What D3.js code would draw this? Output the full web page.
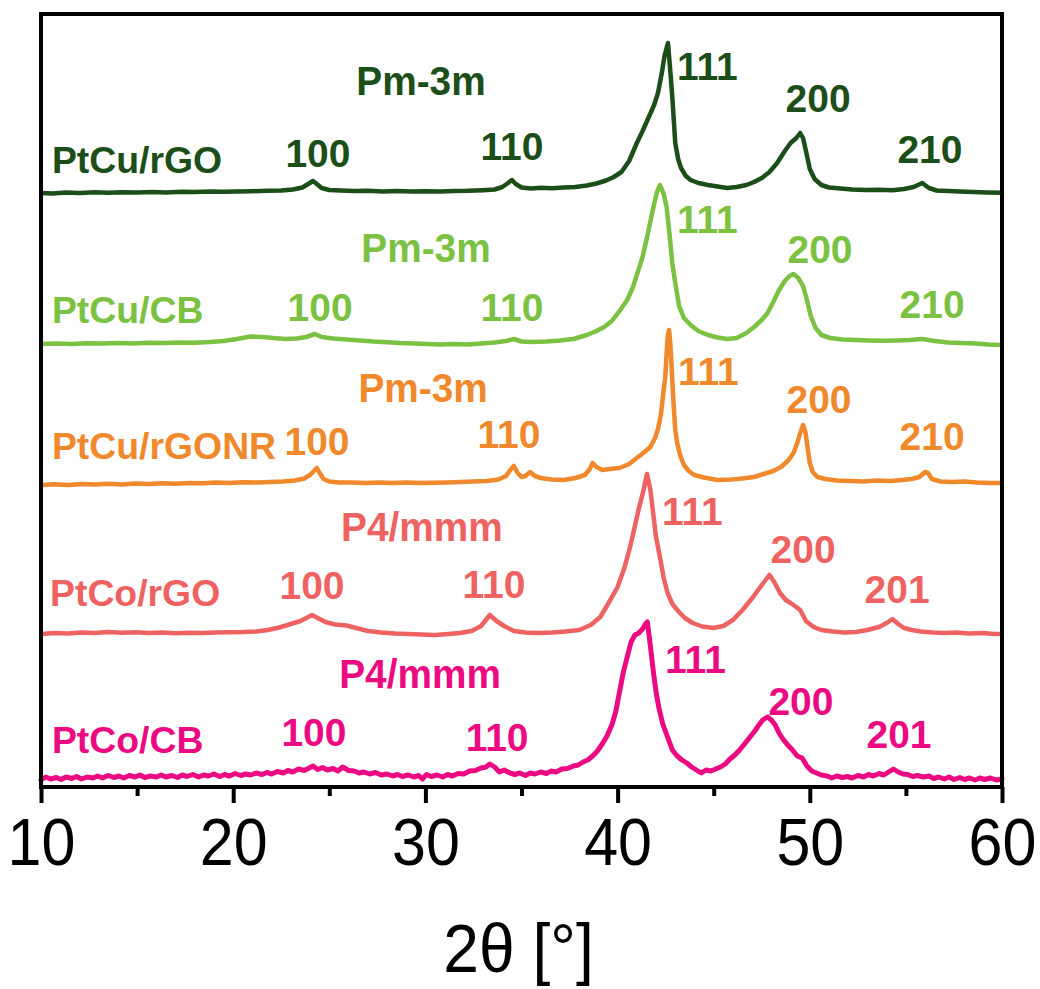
<!DOCTYPE html>
<html>
<head>
<meta charset="utf-8">
<script src="https://cdn.jsdelivr.net/npm/d3@7/dist/d3.min.js"></script>
<style>
  html, body { margin: 0; padding: 0; background: #fff; }
  svg { display: block; }
  text { font-family: "Liberation Sans", Arial, Helvetica, sans-serif; }
</style>
</head>
<body>
<svg id="chart" width="1040" height="989"></svg>
<script>
// ---- XRD patterns, 2θ (°) vs intensity above each pattern's own baseline (a.u.) ----
const seriesNames = ["PtCu/rGO", "PtCu/CB", "PtCu/rGONR", "PtCo/rGO", "PtCo/CB"];
const seriesColors = ["#1c4e1a", "#7bc142", "#f0882c", "#ee6361", "#ec0a82"];
const seriesOffsets = [594, 443, 302, 153, 7];
const phaseNames = ["Pm-3m", "Pm-3m", "Pm-3m", "P4/mmm", "P4/mmm"];

const ptcuRGO = [[10,0],[10.6,-0.5],[11.3,0.5],[12,0],[12.8,0.8],[13.5,0.2],[14.2,0.8],[15,0.5],[15.8,1],[16.5,0.6],[17.3,1.2],[18,1],[18.8,1.6],[19.5,1.2],[20.2,1.5],[21,1.8],[21.8,2.2],[22.5,2.5],[23.1,3.5],[23.6,5.5],[23.9,9],[24.15,12],[24.35,9],[24.6,5],[25,3],[25.6,2.5],[26.3,2],[27,2.2],[27.8,1.6],[28.5,2],[29.3,1.4],[30,1.8],[30.8,1.5],[31.5,2],[32.2,2.2],[33,2.8],[33.6,3.5],[34,6],[34.3,10],[34.5,13],[34.7,9],[35,5.5],[35.5,4.5],[36,5.2],[36.6,4.8],[37.2,5.5],[37.8,6],[38.4,7.5],[38.9,9.5],[39.4,12.5],[39.8,16],[40.2,21],[40.6,32],[41,50],[41.3,62],[41.6,75],[41.9,88],[42.1,100],[42.3,120],[42.45,138],[42.62,150],[42.75,120],[42.85,95],[43,50],[43.15,34],[43.3,25],[43.55,17],[43.8,13],[44.2,10],[44.7,8],[45.2,6.5],[45.7,5],[46.2,6],[46.7,8],[47.1,11],[47.5,15],[47.9,21],[48.3,30],[48.7,42],[49,50],[49.3,55],[49.5,60],[49.65,55],[49.8,42],[50,24],[50.25,14],[50.6,8],[51,5.5],[51.6,4.5],[52.2,3.5],[52.9,3],[53.6,3.2],[54.3,2.8],[54.9,4],[55.4,6],[55.85,10],[56.2,5],[56.6,2.5],[57.2,2],[57.8,1.5],[58.5,1],[59.2,0.6],[60,0.3]];

const ptcuCB = [[10,0],[10.8,0.6],[11.6,0],[12.4,0.8],[13.2,0.4],[14,1],[14.8,0.6],[15.6,1.2],[16.4,1],[17.2,1.5],[18,1.2],[18.8,2],[19.5,3],[20.2,5],[20.9,7.5],[21.5,7],[22.1,6],[22.7,5],[23.3,5.5],[23.8,7],[24.25,10],[24.6,7],[25.2,5.5],[25.9,4.5],[26.6,3.5],[27.3,2.5],[28,1.8],[28.7,1],[29.4,0.5],[30.1,0],[30.8,-0.5],[31.5,0],[32.2,-0.5],[32.9,0.5],[33.6,1.5],[34.2,3],[34.6,5],[35,2.5],[35.6,2],[36.3,2.5],[37,3.5],[37.7,5],[38.4,9],[38.9,13],[39.3,17],[39.7,23],[40.1,33],[40.5,44],[40.8,57],[41.05,72],[41.3,87],[41.5,104],[41.7,122],[41.9,140],[42.05,152],[42.2,159],[42.4,150],[42.55,137],[42.7,110],[42.85,80],[43,61],[43.2,38],[43.45,26],[43.8,19],[44.2,13],[44.7,9],[45.2,6.5],[45.7,5],[46.2,6],[46.7,11],[47.1,17],[47.5,24],[47.8,31],[48.1,42],[48.4,54],[48.7,63],[48.95,68],[49.15,70],[49.4,66],[49.65,58],[49.85,44],[50.05,28],[50.3,16],[50.6,9],[51.05,6],[51.7,4.5],[52.4,4],[53.1,3.5],[53.8,3.2],[54.5,3.5],[55.2,4],[55.85,5],[56.5,3],[57.2,1.5],[57.9,1],[58.6,0.5],[59.3,-0.5],[60,-1]];

const ptcuRGONR = [[10,0],[10.7,0.8],[11.4,0],[12.1,1],[12.8,0.5],[13.5,1.2],[14.2,0.6],[14.9,1.5],[15.6,1],[16.3,1.8],[17,1.2],[17.7,2],[18.4,1.8],[19.1,2.5],[19.8,2],[20.5,2.8],[21.2,2.5],[21.9,3],[22.6,3.5],[23.2,4.5],[23.7,6.5],[24,10],[24.2,14],[24.35,17],[24.5,12],[24.7,6],[25,3.5],[25.5,2.5],[26.2,2.5],[26.9,2],[27.6,2.5],[28.3,2],[29,2.5],[29.7,2],[30.4,2.2],[31.1,2.5],[31.8,3],[32.5,3.5],[33.2,4],[33.8,5.5],[34.2,9],[34.45,16],[34.6,19],[34.8,12],[35,8],[35.2,9],[35.45,13],[35.7,9],[36,7],[36.6,5.5],[37.2,5],[37.8,7],[38.3,10],[38.55,16],[38.7,22],[38.9,18],[39.2,15],[39.6,16],[40.1,17],[40.6,21],[41,27],[41.4,33],[41.7,38],[41.95,47],[42.1,56],[42.25,70],[42.38,92],[42.48,108],[42.56,135],[42.62,150],[42.68,155],[42.74,142],[42.8,122],[42.9,85],[43,55],[43.1,42],[43.25,30],[43.45,20],[43.7,14],[44,10],[44.5,7.5],[45.2,5],[45.9,5.5],[46.5,6.5],[47.1,8],[47.6,11],[48.1,14],[48.5,18],[48.9,25],[49.15,32],[49.35,42],[49.5,52],[49.65,60],[49.78,52],[49.88,38],[50,22],[50.15,13],[50.4,8],[50.8,6],[51.4,4.5],[52.1,4],[52.8,3.5],[53.5,4.5],[54.2,4],[54.8,5],[55.3,6],[55.7,8],[56,13],[56.15,12],[56.35,6],[56.8,3.5],[57.4,3],[58,3.5],[58.7,2.5],[59.4,2],[60,2]];

const ptcoRGO = [[10,0],[10.7,1],[11.4,0.5],[12.1,1.5],[12.8,1],[13.5,2],[14.2,1.2],[14.9,1.8],[15.6,1],[16.3,1.5],[17,0.8],[17.7,1.2],[18.4,1],[19.1,1.5],[19.8,1.8],[20.5,2],[21.2,2.5],[21.8,4],[22.4,6.5],[23,10],[23.5,13],[23.9,17],[24.1,19],[24.4,16],[24.8,12],[25.3,9.5],[25.9,8.5],[26.4,6],[27,3],[27.7,1.5],[28.4,0.5],[29.1,0],[29.8,-0.5],[30.5,-1],[31.2,0],[31.8,1],[32.4,3],[32.9,8],[33.35,19],[33.7,13],[34.1,8],[34.6,3],[35.2,1.5],[35.9,1],[36.6,1.5],[37.3,2.5],[38,4],[38.6,9],[39.1,17],[39.5,30],[40,47],[40.35,66],[40.65,87],[40.9,108],[41.1,125],[41.3,140],[41.53,160],[41.7,145],[41.85,121],[42,97],[42.2,77],[42.4,56],[42.6,41],[42.85,30],[43.1,24],[43.5,16],[43.9,11],[44.4,7.5],[45,6],[45.5,8],[46,14],[46.5,24],[47.05,37],[47.5,49],[47.9,59],[48.15,52],[48.45,41],[48.75,34],[49,31],[49.3,27],[49.5,24],[49.8,13],[50.2,7],[50.6,4],[51.2,2.5],[51.8,1.5],[52.4,2],[53,4],[53.6,7],[54,11],[54.3,15],[54.6,10],[54.9,6],[55.3,4],[55.8,2.5],[56.4,1.5],[57,1],[57.6,1.5],[58.3,0.5],[59,1],[59.6,0],[60,0]];

const ptcoCB = [[10,0],[10.25,3],[10.5,1],[10.8,2.5],[11.05,0.5],[11.3,3],[11.6,1.5],[11.85,3.5],[12.1,1],[12.4,3],[12.7,2],[12.95,4],[13.2,2],[13.5,4.5],[13.8,2.5],[14.05,4],[14.3,2],[14.6,4.5],[14.9,3],[15.15,5],[15.4,2.5],[15.7,4],[16,3],[16.25,5],[16.5,3],[16.8,4.5],[17.1,2.5],[17.35,5],[17.6,3.5],[17.9,5.5],[18.2,3],[18.45,5],[18.7,4],[19,6],[19.3,3.5],[19.55,5.5],[19.8,4],[20.1,6.5],[20.4,4.5],[20.65,6],[20.9,5],[21.2,7],[21.5,5.5],[21.75,7.5],[22,6],[22.3,8.5],[22.6,7],[22.85,9.5],[23.1,8],[23.4,11],[23.7,9.5],[23.95,12],[24.15,14],[24.4,10.5],[24.65,12.5],[24.9,10],[25.2,11.5],[25.45,9],[25.7,13],[26,9.5],[26.3,9],[26.55,7],[26.8,8],[27.1,6],[27.4,7.5],[27.7,5],[28,6],[28.3,4],[28.55,5.5],[28.8,3.5],[29.1,5],[29.4,3],[29.65,4.5],[29.85,1],[30.05,5.5],[30.3,3.5],[30.6,5],[30.9,3],[31.15,5.5],[31.4,4],[31.7,6.5],[32,6],[32.3,9],[32.6,9.5],[32.9,12],[33.15,13],[33.35,16],[33.6,13],[33.85,8],[34.1,10],[34.4,7],[34.65,5.5],[34.9,7],[35.2,4.5],[35.45,7],[35.7,6],[36,8],[36.3,6.5],[36.55,9],[36.8,8],[37.1,11],[37.4,11.5],[37.7,14],[37.95,15],[38.2,18],[38.45,20],[38.7,24],[38.95,29],[39.2,36],[39.45,44],[39.7,55],[39.9,68],[40.1,88],[40.3,108],[40.5,123],[40.7,138],[40.9,145],[41.1,147],[41.3,151],[41.45,156],[41.55,158],[41.7,135],[41.85,110],[42,88],[42.15,72],[42.35,56],[42.6,43],[42.85,30],[43.1,24],[43.35,20],[43.6,17],[43.85,13],[44.1,10],[44.35,7],[44.6,10],[44.85,9],[45.1,11],[45.35,13],[45.6,16],[45.85,21],[46.1,25],[46.35,30],[46.6,36],[46.85,42],[47.1,48],[47.35,55],[47.55,60],[47.8,63],[48,60],[48.2,55],[48.4,47],[48.6,41],[48.85,35],[49.1,30],[49.35,24],[49.6,22],[49.85,14],[50.1,9],[50.35,7],[50.6,5],[50.9,4],[51.15,2],[51.4,4],[51.7,2.5],[51.95,3.5],[52.2,2],[52.5,4.5],[52.8,3],[53.05,5.5],[53.3,4],[53.6,6.5],[53.85,5],[54.1,8],[54.35,11],[54.6,8],[54.85,6],[55.1,5.5],[55.35,3.5],[55.6,4.5],[55.9,3],[56.2,4],[56.45,1.5],[56.7,3],[57,1],[57.25,3],[57.5,0.5],[57.8,2.5],[58.05,0.5],[58.3,2],[58.6,0],[58.85,2],[59.1,0.5],[59.4,2],[59.7,0],[60,1]];

const seriesData = [ptcuRGO, ptcuCB, ptcuRGONR, ptcoRGO, ptcoCB];

// Reflection labels: [2θ, level] in the stacked intensity units
const hklCubic = ["100", "110", "111", "200", "210"];
const hklTetra = ["100", "110", "111", "200", "201"];
const hklPositions = [
  [[24.41, 620], [34.5, 627], [43.09, 707], [50.43, 675], [56.25, 624]],
  [[24.52, 466], [34.5, 466], [43.09, 554], [50.53, 524], [56.36, 469]],
  [[24.36, 332], [34.35, 339], [43.14, 402], [50.48, 374], [56.36, 337]],
  [[24.1, 188], [33.57, 189], [42.31, 262], [49.65, 224], [54.54, 184]],
  [[24.2, 41], [33.73, 36], [42.47, 114], [49.54, 72], [54.64, 39]]
];
// Sample-name and space-group label anchors [2θ, level]
const nameAnchors = [[10.57, 614], [10.57, 464], [10.57, 328], [10.47, 181], [10.57, 34]];
const phaseAnchors = [[29.77, 692], [30.03, 525], [29.88, 385], [29.82, 246], [29.72, 99]];

const majorTicks = [10, 20, 30, 40, 50, 60];
const minorTicks = [15, 25, 35, 45, 55];
const xTitle = "2θ [°]";

// ---- layout ----
const svg = d3.select("#chart");
const plot = { left: 41, right: 1002, top: 14, bottom: 787 };
const x = d3.scaleLinear().domain([10, 60]).range([plot.left, plot.right]);
const y = d3.scaleLinear().domain([0, 773]).range([plot.bottom, plot.top]);

const line = d3.line()
  .x(d => x(d[0]))
  .y(d => y(d[1]));

// patterns
const traces = svg.append("g");
seriesData.forEach((pts, i) => {
  traces.append("path")
    .datum(pts.map(p => [p[0], p[1] + seriesOffsets[i]]))
    .attr("d", line)
    .attr("fill", "none")
    .attr("stroke", seriesColors[i])
    .attr("stroke-width", i === 4 ? 5 : 4.5)
    .attr("stroke-linejoin", "round")
    .attr("stroke-linecap", "round");
});

// labels
const labels = svg.append("g").attr("font-weight", "bold");
function putText(g, str, px, py, size, anchor, color, sx) {
  g.append("text")
    .attr("transform", `translate(${px},${py}) scale(${sx},1)`)
    .attr("text-anchor", anchor)
    .attr("font-size", size)
    .attr("fill", color)
    .text(str);
}
seriesNames.forEach((name, i) => {
  const c = seriesColors[i];
  putText(labels, name, x(nameAnchors[i][0]), y(nameAnchors[i][1]), 37, "start", c, 1.01);
  putText(labels, phaseNames[i], x(phaseAnchors[i][0]), y(phaseAnchors[i][1]), 40, "middle", c, 0.97);
  const hkl = i < 3 ? hklCubic : hklTetra;
  hkl.forEach((h, j) => {
    const [tt, lv] = hklPositions[i][j];
    putText(labels, h, x(tt), y(lv), 39, h === "111" ? "start" : "middle", c, 1.0);
  });
});

// axis with outward ticks
const axis = svg.append("g").attr("transform", `translate(0,${plot.bottom})`);
axis.call(d3.axisBottom(x).tickValues(minorTicks).tickSize(9).tickFormat(""))
  .call(g => g.select(".domain").remove())
  .call(g => g.selectAll("line").attr("stroke", "#000").attr("stroke-width", 4));
const major = svg.append("g").attr("transform", `translate(0,${plot.bottom})`);
major.call(d3.axisBottom(x).tickValues(majorTicks).tickSize(16).tickPadding(14).tickFormat(d3.format("d")))
  .call(g => g.select(".domain").remove())
  .call(g => g.selectAll("line").attr("stroke", "#000").attr("stroke-width", 4))
  .call(g => g.selectAll("text")
    .attr("fill", "#000")
    .attr("font-size", 67)
    .attr("font-family", "'Liberation Sans', Arial, sans-serif")
    .attr("transform", "scale(0.91,1)"));

// frame
svg.append("rect")
  .attr("x", plot.left).attr("y", plot.top)
  .attr("width", plot.right - plot.left).attr("height", plot.bottom - plot.top)
  .attr("fill", "none").attr("stroke", "#000").attr("stroke-width", 4);

// axis title
svg.append("text")
  .attr("transform", `translate(${(plot.left + plot.right) / 2 - 3},972) scale(0.93,1)`)
  .attr("text-anchor", "middle")
  .attr("font-size", 69)
  .attr("fill", "#000")
  .text(xTitle);
</script>
</body>
</html>
